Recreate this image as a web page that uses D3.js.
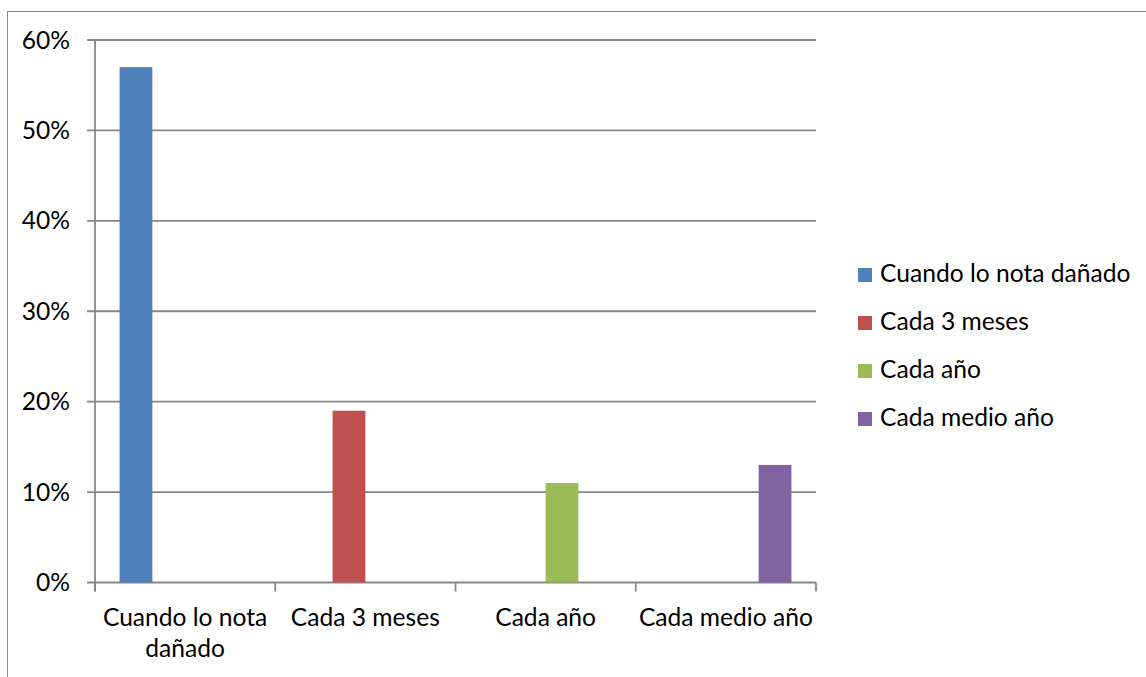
<!DOCTYPE html>
<html>
<head>
<meta charset="utf-8">
<script src="https://cdn.jsdelivr.net/npm/d3@7"></script>
<style>
  html, body { margin: 0; padding: 0; background: #fff; }
  svg { display: block; font-family: Lato, "Open Sans", sans-serif; }
</style>
</head>
<body>
<svg id="chart" width="1146" height="677"></svg>
<script>
// Categories on the x axis, one series per category (clustered layout)
const categories = ["Cuando lo nota dañado", "Cada 3 meses", "Cada año", "Cada medio año"];
const seriesNames = ["Cuando lo nota dañado", "Cada 3 meses", "Cada año", "Cada medio año"];
const seriesColors = ["#4F81BD", "#C0504D", "#9BBB59", "#8064A2"];
// Each series has a value only in its own category
const seriesValues = [
  [0.57, null, null, null],
  [null, 0.19, null, null],
  [null, null, 0.11, null],
  [null, null, null, 0.13]
];
const yTicks = [0, 0.1, 0.2, 0.3, 0.4, 0.5, 0.6];

const svg = d3.select("#chart");
const W = 1146, H = 677;
const plot = { left: 95, right: 816, top: 40, bottom: 582.5 };
const fontSize = 24.6;
const gridColor = "#878787";
const gridWidth = 1.8;

// Outer chart border
svg.append("rect")
  .attr("x", 7.5).attr("y", 11.5)
  .attr("width", W + 20).attr("height", H + 20)
  .attr("fill", "none").attr("stroke", "#8c8c8c").attr("stroke-width", 1);

const x0 = d3.scaleBand().domain(categories).range([plot.left, plot.right]).paddingInner(0).paddingOuter(0);
const x1 = d3.scaleBand().domain(seriesNames).range([0, x0.bandwidth()]).paddingInner(0).paddingOuter(0.75);
const y = d3.scaleLinear().domain([0, 0.6]).range([plot.bottom, plot.top]);

// Horizontal gridlines
svg.append("g")
  .selectAll("line")
  .data(yTicks)
  .join("line")
  .attr("x1", plot.left - 8).attr("x2", plot.right)
  .attr("y1", d => y(d)).attr("y2", d => y(d))
  .attr("stroke", gridColor).attr("stroke-width", gridWidth);

// Y axis labels
const fmt = d3.format(".0%");
svg.append("g")
  .selectAll("text")
  .data(yTicks)
  .join("text")
  .attr("x", 70).attr("y", d => y(d))
  .attr("dy", "0.35em")
  .attr("text-anchor", "end")
  .attr("font-size", fontSize)
  .attr("fill", "#000")
  .text(d => fmt(d));

// Y axis line
svg.append("line")
  .attr("x1", plot.left).attr("x2", plot.left)
  .attr("y1", plot.top).attr("y2", plot.bottom + 9)
  .attr("stroke", gridColor).attr("stroke-width", gridWidth);

// Category tick marks at band boundaries
const boundaries = categories.map(c => x0(c)).concat([plot.right]);
svg.append("g")
  .selectAll("line")
  .data(boundaries)
  .join("line")
  .attr("x1", d => d).attr("x2", d => d)
  .attr("y1", plot.bottom).attr("y2", plot.bottom + 9)
  .attr("stroke", gridColor).attr("stroke-width", gridWidth);

// Bars
seriesNames.forEach((s, si) => {
  svg.append("g")
    .selectAll("rect")
    .data(categories.map((c, ci) => ({ c, v: seriesValues[si][ci] })).filter(d => d.v != null))
    .join("rect")
    .attr("x", d => x0(d.c) + x1(s))
    .attr("width", x1.bandwidth())
    .attr("y", d => y(d.v))
    .attr("height", d => y(0) - y(d.v))
    .attr("fill", seriesColors[si]);
});

// X axis category labels, wrapped to the band width
const xLabels = svg.append("g")
  .selectAll("text")
  .data(categories)
  .join("text")
  .attr("x", d => x0(d) + x0.bandwidth() / 2)
  .attr("y", 626)
  .attr("text-anchor", "middle")
  .attr("font-size", fontSize)
  .attr("fill", "#000");

xLabels.each(function(d) {
  const t = d3.select(this);
  const cx = x0(d) + x0.bandwidth() / 2;
  const words = d.split(" ");
  let line = [];
  let tspan = t.append("tspan").attr("x", cx).attr("dy", 0);
  words.forEach(w => {
    line.push(w);
    tspan.text(line.join(" "));
    if (tspan.node().getComputedTextLength() > x0.bandwidth() && line.length > 1) {
      line.pop();
      tspan.text(line.join(" "));
      line = [w];
      tspan = t.append("tspan").attr("x", cx).attr("dy", 30.7).text(w);
    }
  });
});

// Legend
const legend = svg.append("g")
  .selectAll("g")
  .data(seriesNames)
  .join("g")
  .attr("transform", (d, i) => `translate(858, ${268 + i * 48})`);

legend.append("rect")
  .attr("width", 14).attr("height", 14)
  .attr("fill", (d, i) => seriesColors[i]);

legend.append("text")
  .attr("x", 22).attr("y", 14)
  .attr("font-size", fontSize)
  .attr("fill", "#000")
  .text(d => d);
</script>
</body>
</html>
